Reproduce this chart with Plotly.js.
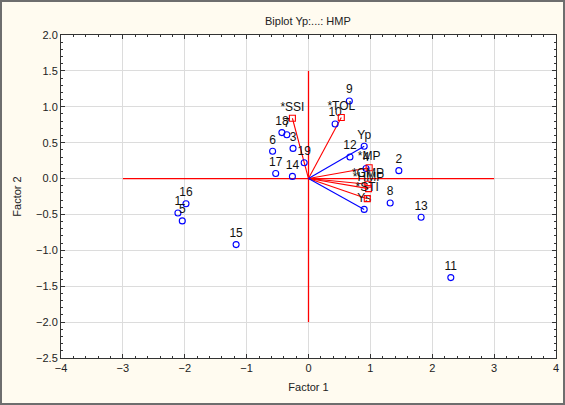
<!DOCTYPE html>
<html>
<head>
<meta charset="utf-8">
<script src="https://cdn.plot.ly/plotly-3.0.1.min.js"></script>
<style>
html,body{margin:0;padding:0;background:#fffbf0;}
#wrap{position:relative;width:565px;height:405px;}
#chart{width:565px;height:405px;}
#frame{position:absolute;left:0;top:0;width:561px;height:401px;border:2px solid #6e6e6e;pointer-events:none;}
</style>
</head>
<body>
<div id="wrap"><div id="chart"></div><div id="frame"></div></div>
<script>
// Cases (genotypes)
const caseLabels = ["9","10","18","7","3","6","19","17","14","12","2","4","8","13","11","15","16","1","5"];
const caseX = [0.66, 0.43, -0.43, -0.35, -0.25, -0.58, -0.07, -0.53, -0.26, 0.67, 1.46, 0.93, 1.32, 1.82, 2.30, -1.17, -1.98, -2.11, -2.04];
const caseY = [1.08, 0.76, 0.64, 0.61, 0.42, 0.38, 0.22, 0.07, 0.03, 0.30, 0.11, 0.14, -0.34, -0.54, -1.38, -0.92, -0.35, -0.48, -0.59];

// Active variables (blue)
const actLabels = ["Yp","Ys"];
const actX = [0.90, 0.90];
const actY = [0.45, -0.43];

// Supplementary variables (red)
const supLabels = ["*SSI","*TOL","*MP","*GMP","*HMP","*STI"];
const supX = [-0.26, 0.53, 0.98, 0.96, 0.97, 0.95];
const supY = [0.84, 0.85, 0.15, -0.08, -0.14, -0.28];

// Cross lines through the origin
const crossX = [0, 0, null, -3, 3];
const crossY = [-2, 1.5, null, 0, 0];

function vectors(xs, ys){
  const vx = [], vy = [];
  xs.forEach((v,i)=>{ vx.push(0, v, null); vy.push(0, ys[i], null); });
  return {vx, vy};
}
const av = vectors(actX, actY);
const sv = vectors(supX, supY);

const fam = "Liberation Sans, Arial, sans-serif";
const font = {family:fam, size:11, color:"#222"};
const labelFont = {family:fam, size:12, color:"#111"};

const traces = [
  {x: crossX, y: crossY, mode:"lines", line:{color:"#ff0000", width:1.3}, hoverinfo:"skip", showlegend:false},
  {x: sv.vx, y: sv.vy, mode:"lines", line:{color:"#ff0000", width:1.1}, hoverinfo:"skip", showlegend:false},
  {x: av.vx, y: av.vy, mode:"lines", line:{color:"#0000ff", width:1.1}, hoverinfo:"skip", showlegend:false},
  {x: caseX, y: caseY, text: caseLabels, mode:"markers+text", textposition:"top center",
   textfont: labelFont,
   marker:{symbol:"circle-open", size:6, color:"#0000ff", line:{width:1.1}}, showlegend:false},
  {x: actX, y: actY, text: actLabels, mode:"markers+text", textposition:"top center",
   textfont: labelFont,
   marker:{symbol:"circle-open", size:6, color:"#0000ff", line:{width:1.1}}, showlegend:false},
  {x: supX, y: supY, text: supLabels, mode:"markers+text", textposition:"top center",
   textfont: labelFont,
   marker:{symbol:"square-open", size:6, color:"#ff0000", line:{width:1.1}}, showlegend:false}
];

const layout = {
  width:565, height:405,
  paper_bgcolor:"#fffbf0", plot_bgcolor:"#ffffff",
  margin:{l:61, r:9, t:35, b:47, pad:0},
  font: font,
  title:{text:"Biplot Yp:...: HMP", x:0.545, xanchor:"center", y:0.948, yanchor:"middle", font:{family:fam, size:11, color:"#222"}},
  xaxis:{range:[-4,4], dtick:1, tick0:-4, showgrid:true, gridcolor:"#dcdcdc", gridwidth:1, zeroline:false,
    showline:true, linecolor:"#333", linewidth:1, mirror:"ticks", ticks:"inside", ticklen:4, tickcolor:"#333",
    minor:{dtick:0.2, ticks:"inside", ticklen:2, tickcolor:"#333", showgrid:false},
    tickfont:{family:fam, size:11, color:"#222"},
    title:{text:"Factor 1", standoff:10, font:{family:fam, size:11, color:"#222"}}},
  yaxis:{range:[-2.5,2], dtick:0.5, tick0:-2.5, tickformat:".1f", showgrid:true, gridcolor:"#dcdcdc", gridwidth:1, zeroline:false,
    showline:true, linecolor:"#333", linewidth:1, mirror:"ticks", ticks:"inside", ticklen:4, tickcolor:"#333",
    minor:{dtick:0.1, ticks:"inside", ticklen:2, tickcolor:"#333", showgrid:false},
    tickfont:{family:fam, size:11, color:"#222"},
    title:{text:"Factor 2", standoff:12, font:{family:fam, size:11, color:"#222"}}}
};

Plotly.newPlot("chart", traces, layout, {displayModeBar:false, staticPlot:true});
</script>
</body>
</html>
